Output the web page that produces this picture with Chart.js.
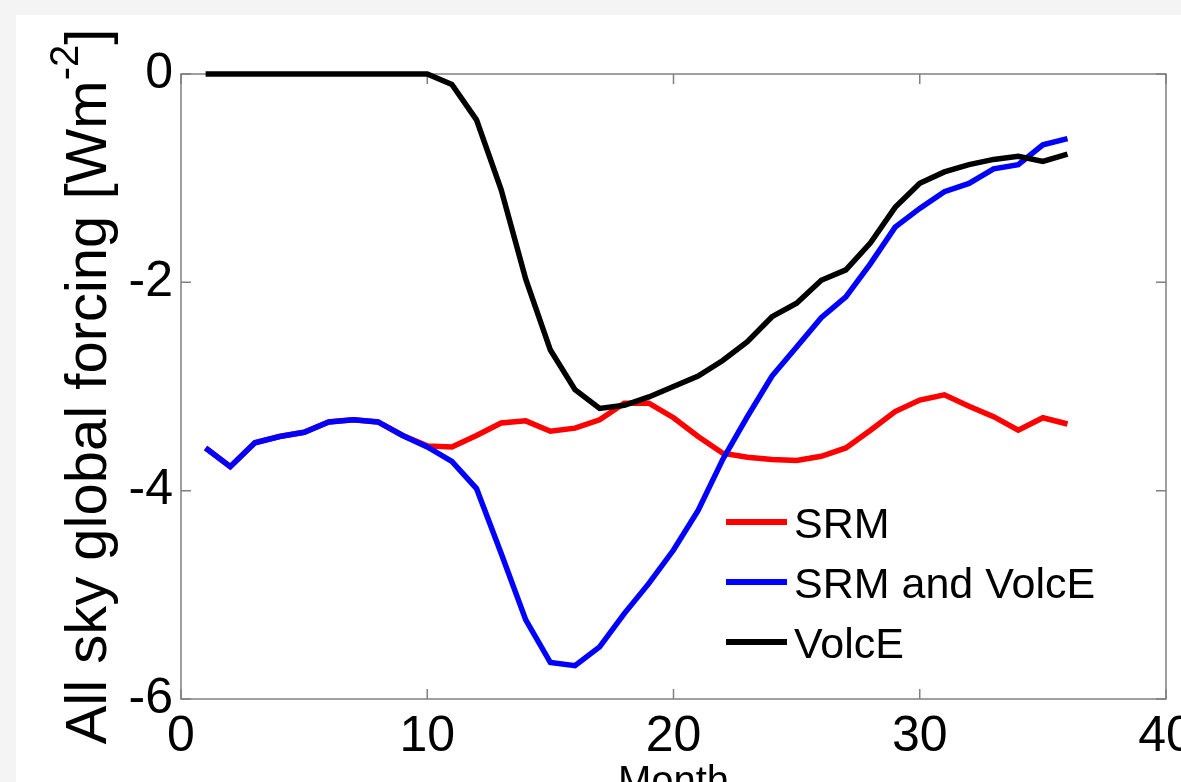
<!DOCTYPE html>
<html>
<head>
<meta charset="utf-8">
<script src="https://cdn.jsdelivr.net/npm/chart.js@4"></script>
<style>
  html, body { margin: 0; padding: 0; overflow: hidden; background: #f4f4f4; }
  #panel { position: absolute; left: 16px; top: 15px; width: 1165px; height: 767px; background: #ffffff; }
  canvas { display: block; }
</style>
</head>
<body>
<div id="panel"><canvas id="forcingChart" width="1165" height="767"></canvas></div>
<script>
// Months along the x axis
const months = [1, 2, 3, 4, 5, 6, 7, 8, 9, 10, 11, 12, 13, 14, 15, 16, 17, 18,
                19, 20, 21, 22, 23, 24, 25, 26, 27, 28, 29, 30, 31, 32, 33, 34, 35, 36];

// All sky global forcing [Wm-2]
const srm = [-3.59, -3.77, -3.54, -3.48, -3.44, -3.34, -3.32, -3.34, -3.47, -3.57,
             -3.58, -3.47, -3.35, -3.33, -3.43, -3.40, -3.32, -3.16, -3.16, -3.30,
             -3.48, -3.64, -3.68, -3.70, -3.71, -3.67, -3.59, -3.42, -3.24, -3.13,
             -3.08, -3.19, -3.29, -3.42, -3.30, -3.36];
const srmVolcE = [-3.59, -3.77, -3.54, -3.48, -3.44, -3.34, -3.32, -3.34, -3.47, -3.58,
                  -3.72, -3.98, -4.60, -5.24, -5.65, -5.68, -5.50, -5.18, -4.89, -4.57,
                  -4.19, -3.70, -3.29, -2.90, -2.62, -2.34, -2.14, -1.82, -1.47, -1.29,
                  -1.13, -1.05, -0.91, -0.87, -0.68, -0.62];
const volcE = [0, 0, 0, 0, 0, 0, 0, 0, 0, 0,
               -0.10, -0.44, -1.11, -1.97, -2.65, -3.03, -3.21, -3.18, -3.10, -3.00,
               -2.90, -2.75, -2.57, -2.33, -2.20, -1.98, -1.88, -1.62, -1.28, -1.05,
               -0.94, -0.87, -0.82, -0.79, -0.84, -0.77];

const xTicks = [0, 10, 20, 30, 40];
const yTicks = [-6, -4, -2, 0];
const seriesNames = ['SRM', 'SRM and VolcE', 'VolcE'];
const seriesColors = ['#ff0000', '#0000ff', '#000000'];

const FONT = '"Liberation Sans", Arial, sans-serif';

function toPoints(values) {
    return months.map((m, i) => ({ x: m, y: values[i] }));
}

// box round the plot, ticks pointing inward, legend and axis titles
const matlabFrame = {
    id: 'matlabFrame',
    beforeDatasetsDraw(chart) {
        const { ctx, chartArea: a, scales: { x, y } } = chart;
        ctx.save();
        ctx.strokeStyle = '#808080';
        ctx.lineWidth = 1.5;
        ctx.strokeRect(a.left, a.top, a.right - a.left, a.bottom - a.top);
        ctx.beginPath();
        xTicks.forEach(v => {
            const px = x.getPixelForValue(v);
            ctx.moveTo(px, a.bottom); ctx.lineTo(px, a.bottom - 10);
            ctx.moveTo(px, a.top); ctx.lineTo(px, a.top + 10);
        });
        yTicks.forEach(v => {
            const py = y.getPixelForValue(v);
            ctx.moveTo(a.left, py); ctx.lineTo(a.left + 10, py);
            ctx.moveTo(a.right, py); ctx.lineTo(a.right - 10, py);
        });
        ctx.stroke();
        ctx.restore();
    },
    afterDraw(chart) {
        const { ctx, chartArea: a } = chart;
        ctx.save();

        // legend
        ctx.font = '43px ' + FONT;
        ctx.fillStyle = '#000';
        ctx.textBaseline = 'alphabetic';
        ctx.textAlign = 'left';
        seriesNames.forEach((name, i) => {
            const ly = a.top + 448 + i * 60;
            ctx.strokeStyle = seriesColors[i];
            ctx.lineWidth = 6;
            ctx.beginPath();
            ctx.moveTo(a.left + 545, ly);
            ctx.lineTo(a.left + 606, ly);
            ctx.stroke();
            ctx.fillText(name, a.left + 613, ly + 16);
        });

        // x title
        ctx.font = '40px ' + FONT;
        ctx.textAlign = 'center';
        ctx.fillText('Month', (a.left + a.right) / 2, a.bottom + 95);

        // y title with superscript
        const main = 'All sky global forcing [Wm';
        const sup = '-2';
        const close = ']';
        ctx.font = '58px ' + FONT;
        const w1 = ctx.measureText(main).width;
        const w3 = ctx.measureText(close).width;
        ctx.font = '40px ' + FONT;
        const w2 = ctx.measureText(sup).width;
        const total = w1 + w2 + w3;
        ctx.translate(a.left - 75, (a.top + a.bottom) / 2);
        ctx.rotate(-Math.PI / 2);
        ctx.textAlign = 'left';
        let cx = -total / 2;
        ctx.font = '58px ' + FONT;
        ctx.fillText(main, cx, 0);
        cx += w1;
        ctx.font = '40px ' + FONT;
        ctx.fillText(sup, cx, -28);
        cx += w2;
        ctx.font = '58px ' + FONT;
        ctx.fillText(close, cx, 0);
        ctx.restore();
    }
};

const ctx = document.getElementById('forcingChart').getContext('2d');

new Chart(ctx, {
    type: 'line',
    data: {
        datasets: [
            { label: seriesNames[0], data: toPoints(srm), borderColor: seriesColors[0], order: 3 },
            { label: seriesNames[1], data: toPoints(srmVolcE), borderColor: seriesColors[1], order: 2 },
            { label: seriesNames[2], data: toPoints(volcE), borderColor: seriesColors[2], order: 1 }
        ]
    },
    options: {
        responsive: false,
        animation: false,
        devicePixelRatio: 1,
        layout: { padding: { top: 59, right: 15, left: 0, bottom: 0 } },
        elements: {
            line: { borderWidth: 5.5, tension: 0, fill: false },
            point: { radius: 0, hoverRadius: 0 }
        },
        datasets: { line: { clip: false } },
        plugins: {
            legend: { display: false },
            tooltip: { enabled: false }
        },
        scales: {
            x: {
                type: 'linear',
                min: 0,
                max: 40,
                grid: { display: false, drawTicks: false },
                border: { display: false },
                ticks: {
                    color: '#000',
                    font: { family: FONT, size: 50 },
                    padding: 8,
                    maxRotation: 0,
                    autoSkip: false
                },
                afterBuildTicks: scale => { scale.ticks = xTicks.map(v => ({ value: v })); },
                afterFit: scale => {
                    scale.height = 83;
                    scale.paddingLeft = 0;
                    scale.paddingRight = 0;
                }
            },
            y: {
                type: 'linear',
                min: -6,
                max: 0,
                grid: { display: false, drawTicks: false },
                border: { display: false },
                ticks: {
                    color: '#000',
                    font: { family: FONT, size: 50 },
                    padding: 8,
                    autoSkip: false
                },
                afterBuildTicks: scale => { scale.ticks = yTicks.map(v => ({ value: v })); },
                afterFit: scale => {
                    scale.width = 165;
                    scale.paddingTop = 0;
                    scale.paddingBottom = 0;
                }
            }
        }
    },
    plugins: [matlabFrame]
});
</script>
</body>
</html>
